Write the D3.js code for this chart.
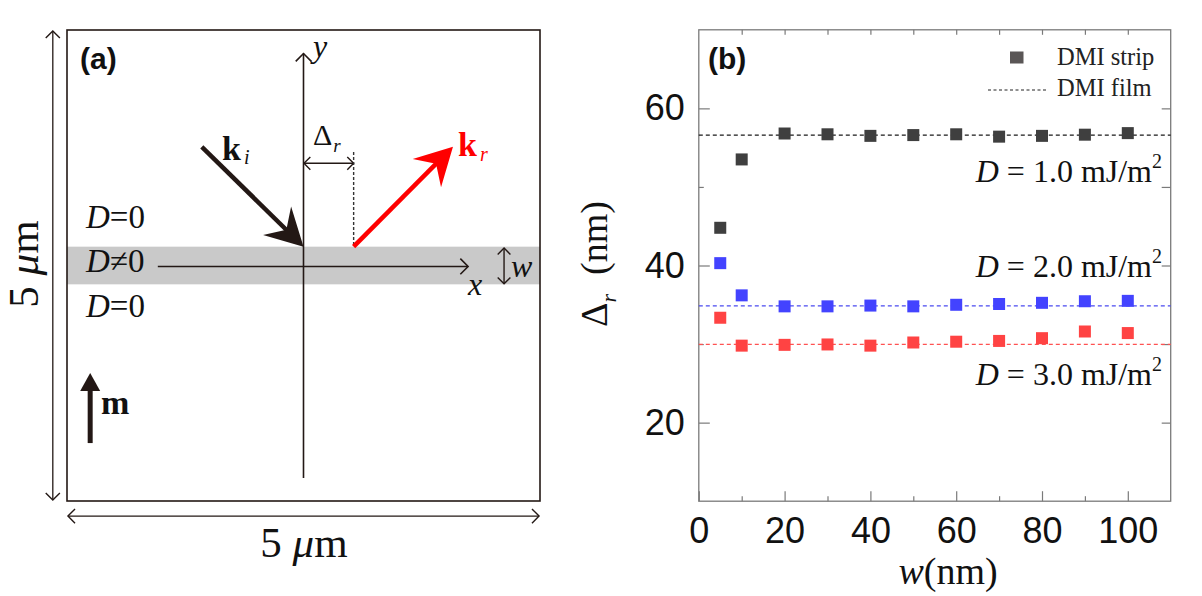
<!DOCTYPE html>
<html>
<head>
<meta charset="utf-8">
<script src="https://cdn.jsdelivr.net/npm/d3@7"></script>
<style>
  body { margin: 0; background: #fff; }
  svg { display: block; }
</style>
</head>
<body>
<div id="chart-area"></div>
<script>
// strip width w (nm) and shift Delta_r (nm)
var widths = [5, 10, 20, 30, 40, 50, 60, 70, 80, 90, 100];
var stripD1 = [44.8, 53.5, 56.8, 56.7, 56.5, 56.6, 56.7, 56.4, 56.5, 56.65, 56.85];
var stripD2 = [40.3, 36.2, 34.8, 34.8, 34.9, 34.8, 35.0, 35.1, 35.25, 35.45, 35.5];
var stripD3 = [33.35, 29.8, 29.9, 29.95, 29.8, 30.2, 30.3, 30.4, 30.75, 31.6, 31.4];
var filmValues = [56.6, 34.85, 29.95];
var dValues = ["1.0", "2.0", "3.0"];
var dLabelAt = [50.6, 38.5, 24.8];
var xTicks = [0, 20, 40, 60, 80, 100];
var yTicks = [20, 40, 60];

var serif = "'Liberation Serif', 'Times New Roman', serif";
var sans = "'Liberation Sans', Arial, sans-serif";
var ink = "#231815";

var svg = d3.select("#chart-area")
    .append("svg")
    .attr("width", 1202)
    .attr("height", 596);

/////////////// panel (a) : schematic

// box coordinates in percent of the 5 um square
var sx = d3.scaleLinear().domain([0, 100]).range([67, 540]);
var sy = d3.scaleLinear().domain([0, 100]).range([30, 501]);

var ga = svg.append("g");

function chevron(x, y, ang, len) {
    // open arrow head, tip at x,y pointing along ang (radians)
    var a1 = ang + Math.PI * 0.75, a2 = ang - Math.PI * 0.75;
    return "M" + (x + len * Math.cos(a1)) + "," + (y + len * Math.sin(a1)) +
        "L" + x + "," + y +
        "L" + (x + len * Math.cos(a2)) + "," + (y + len * Math.sin(a2));
}

function solidHead(x, y, ang, len, half, notch) {
    var c = Math.cos(ang), s = Math.sin(ang);
    var bx = x - len * c, by = y - len * s;
    var nx = x - notch * c, ny = y - notch * s;
    return "M" + x + "," + y +
        "L" + (bx - half * s) + "," + (by + half * c) +
        "L" + nx + "," + ny +
        "L" + (bx + half * s) + "," + (by - half * c) + "Z";
}

function openLine(x1, y1, x2, y2, w, col, dash) {
    return ga.append("line")
        .attr("x1", x1).attr("y1", y1).attr("x2", x2).attr("y2", y2)
        .attr("stroke", col || ink)
        .attr("stroke-width", w)
        .attr("stroke-dasharray", dash || null);
}

function headPath(d, w) {
    ga.append("path").attr("d", d).attr("fill", "none")
        .attr("stroke", ink).attr("stroke-width", w || 1.4);
}

// strip with D != 0
ga.append("rect")
    .attr("x", sx(0)).attr("y", sy(46))
    .attr("width", sx(100) - sx(0)).attr("height", sy(54) - sy(46))
    .attr("fill", "#c9c9c9");

ga.append("rect")
    .attr("x", sx(0)).attr("y", sy(0))
    .attr("width", sx(100) - sx(0)).attr("height", sy(100) - sy(0))
    .attr("fill", "none").attr("stroke", ink).attr("stroke-width", 1.6);

// dimension arrows
openLine(sx(-3), sy(0.2), sx(-3), sy(99.8), 1.3);
headPath(chevron(sx(-3), sy(0.2), -Math.PI / 2, 10));
headPath(chevron(sx(-3), sy(99.8), Math.PI / 2, 10));
openLine(sx(0.2), sy(103.2), sx(99.8), sy(103.2), 1.3);
headPath(chevron(sx(0.2), sy(103.2), Math.PI, 10));
headPath(chevron(sx(99.8), sy(103.2), 0, 10));

// y and x axes
openLine(sx(50), sy(95.1), sx(50), sy(5), 1.6);
headPath(chevron(sx(50), sy(5), -Math.PI / 2, 11), 1.6);
openLine(sx(19.2), sy(50.2), sx(84.8), sy(50.2), 1.6);
headPath(chevron(sx(84.8), sy(50.2), 0, 11), 1.6);

// width w
openLine(sx(92.4), sy(46.3), sx(92.4), sy(53.9), 1.4);
headPath(chevron(sx(92.4), sy(46.3), -Math.PI / 2, 9));
headPath(chevron(sx(92.4), sy(53.9), Math.PI / 2, 9));

// Delta_r marker
openLine(sx(50.1), sy(28.3), sx(60.6), sy(28.3), 1.4);
headPath(chevron(sx(50.1), sy(28.3), Math.PI, 9));
headPath(chevron(sx(60.6), sy(28.3), 0, 9));
openLine(sx(60.6), sy(25.9), sx(60.6), sy(46), 1.4, "#333", "3,2");

// incident k_i
var ai = Math.atan2(sy(46) - sy(24.8), sx(50) - sx(28.5));
openLine(sx(28.5), sy(24.8), sx(50) - 22 * Math.cos(ai), sy(46) - 22 * Math.sin(ai), 4.5);
ga.append("path").attr("d", solidHead(sx(50), sy(46), ai, 37, 20, 24)).attr("fill", ink);

// reflected k_r
var ar = Math.atan2(sy(24.8) - sy(46), sx(81.6) - sx(60.6));
openLine(sx(60.6), sy(46), sx(81.6) - 22 * Math.cos(ar), sy(24.8) - 22 * Math.sin(ar), 4.5, "#ff0000");
ga.append("path").attr("d", solidHead(sx(81.6), sy(24.8), ar, 37, 20, 24)).attr("fill", "#ff0000");

// magnetisation m
openLine(sx(4.9), sy(87.7), sx(4.9), sy(75), 5);
ga.append("path").attr("d", solidHead(sx(4.9), sy(72.8), -Math.PI / 2, 18, 10, 18)).attr("fill", ink);

function label(g, xPos, yPos, size) {
    return g.append("text")
        .attr("x", xPos).attr("y", yPos)
        .attr("font-family", serif)
        .attr("font-size", size)
        .attr("fill", "#111");
}

ga.append("text").attr("x", 80).attr("y", 69)
    .attr("font-family", sans).attr("font-weight", "bold")
    .attr("font-size", 30).attr("fill", "#111").text("(a)");

["D=0", "D\u22600", "D=0"].forEach(function(t, i) {
    var tx = label(ga, 86, [228, 272, 317][i], 33);
    tx.append("tspan").attr("font-style", "italic").text("D");
    tx.append("tspan").text(t.slice(1));
});

var ki = label(ga, 222, 160, 34).attr("font-weight", "bold");
ki.append("tspan").text("k");
ki.append("tspan").attr("font-style", "italic").attr("font-weight", "normal")
    .attr("font-size", 20).attr("dx", 3).attr("dy", 4).text("i");

var kr = label(ga, 458, 156, 34).attr("font-weight", "bold").attr("fill", "#ff0000");
kr.append("tspan").text("k");
kr.append("tspan").attr("font-style", "italic").attr("font-weight", "normal")
    .attr("font-size", 20).attr("dx", 3).attr("dy", 5).text("r");

var dr = label(ga, 313, 145, 30);
dr.append("tspan").text("\u0394");
dr.append("tspan").attr("font-style", "italic").attr("font-size", 19)
    .attr("dx", 1).attr("dy", 7).text("r");

label(ga, 313, 57, 32).attr("font-style", "italic").text("y");
label(ga, 468, 295, 32).attr("font-style", "italic").text("x");
label(ga, 511, 277, 32).attr("font-style", "italic").text("w");
label(ga, 101, 414, 34).attr("font-weight", "bold").text("m");

var bot = label(ga, 304, 557, 43).attr("text-anchor", "middle");
bot.append("tspan").text("5 ");
bot.append("tspan").attr("font-style", "italic").text("\u03bc");
bot.append("tspan").text("m");

var side = label(ga, 0, 0, 43).attr("text-anchor", "middle")
    .attr("transform", "translate(38,264) rotate(-90)");
side.append("tspan").text("5 ");
side.append("tspan").attr("font-style", "italic").text("\u03bc");
side.append("tspan").text("m");

/////////////// panel (b) : Delta_r versus w

var x = d3.scaleLinear().domain([0, 110]).range([698.8, 1170.7]);
var y = d3.scaleLinear().domain([10, 70]).range([501.2, 29.8]);
var frame = "#7a7a7a";

var gb = svg.append("g");

function styleAxis(sel) {
    sel.select(".domain").remove();
    sel.selectAll("line").attr("stroke", frame).attr("stroke-width", 1.2);
    sel.selectAll("text").attr("font-family", sans).attr("font-size", 36).attr("fill", "#111");
}

gb.append("g")
    .attr("transform", "translate(0," + y(10) + ")")
    .call(d3.axisBottom(x).tickValues(d3.range(10, 101, 20)).tickSizeInner(-5).tickSizeOuter(0).tickFormat(""))
    .call(styleAxis);
gb.append("g")
    .attr("transform", "translate(0," + y(10) + ")")
    .call(d3.axisBottom(x).tickValues(xTicks).tickSizeInner(-10).tickSizeOuter(0).tickPadding(16))
    .call(styleAxis);
gb.append("g")
    .attr("transform", "translate(0," + y(70) + ")")
    .call(d3.axisTop(x).tickValues(d3.range(10, 101, 10)).tickSizeInner(-5).tickSizeOuter(0).tickFormat(""))
    .call(styleAxis);
gb.append("g")
    .attr("transform", "translate(" + x(0) + ",0)")
    .call(d3.axisLeft(y).tickValues([30, 50]).tickSizeInner(-5).tickSizeOuter(0).tickFormat(""))
    .call(styleAxis);
gb.append("g")
    .attr("transform", "translate(" + x(0) + ",0)")
    .call(d3.axisLeft(y).tickValues(yTicks).tickSizeInner(-11).tickSizeOuter(0).tickPadding(14))
    .call(styleAxis);
gb.append("g")
    .attr("transform", "translate(" + x(110) + ",0)")
    .call(d3.axisRight(y).tickValues(d3.range(20, 61, 10)).tickSizeInner(-9).tickSizeOuter(0).tickFormat(""))
    .call(styleAxis);

gb.append("rect")
    .attr("x", x(0)).attr("y", y(70))
    .attr("width", x(110) - x(0)).attr("height", y(10) - y(70))
    .attr("fill", "none").attr("stroke", frame).attr("stroke-width", 1.3);

var series = [
    { values: stripD1, film: filmValues[0], fill: "#3f3f3f", line: "#1a1a1a" },
    { values: stripD2, film: filmValues[1], fill: "#4343ff", line: "#4a4af0" },
    { values: stripD3, film: filmValues[2], fill: "#ff4343", line: "#ff5252" }
];

series.forEach(function(s) {
    gb.append("line")
        .attr("x1", x(0)).attr("x2", x(110))
        .attr("y1", y(s.film)).attr("y2", y(s.film))
        .attr("stroke", s.line).attr("stroke-width", 1.2)
        .attr("stroke-dasharray", "4,3");
});

series.forEach(function(s) {
    gb.selectAll(null)
        .data(s.values)
        .enter().append("rect")
        .attr("x", function(d, i) { return x(widths[i]) - 6; })
        .attr("y", function(d) { return y(d) - 6; })
        .attr("width", 12).attr("height", 12)
        .attr("fill", s.fill);
});

// D labels
dValues.forEach(function(v, i) {
    var t = label(gb, 1162, y(dLabelAt[i]), 32).attr("text-anchor", "end");
    t.append("tspan").attr("font-style", "italic").text("D");
    t.append("tspan").text(" = " + v + " mJ/m");
    t.append("tspan").attr("font-size", 20).attr("dy", -14).text("2");
});

// legend
gb.append("rect").attr("x", 1010).attr("y", 51.5).attr("width", 13.5).attr("height", 12)
    .attr("fill", "#5a5656");
label(gb, 1057, 65, 24.5).attr("fill", "#222").text("DMI strip");
gb.append("line").attr("x1", 988).attr("x2", 1047).attr("y1", 90).attr("y2", 90)
    .attr("stroke", "#222").attr("stroke-width", 1.1).attr("stroke-dasharray", "3,2.5");
label(gb, 1057, 96, 24.5).attr("fill", "#222").text("DMI film");

gb.append("text").attr("x", 708).attr("y", 69)
    .attr("font-family", sans).attr("font-weight", "bold")
    .attr("font-size", 30).attr("fill", "#111").text("(b)");

var xl = label(gb, 948, 584, 38).attr("text-anchor", "middle");
xl.append("tspan").attr("font-style", "italic").text("w");
xl.append("tspan").text("(nm)");

var yl = label(gb, 0, 0, 38).attr("text-anchor", "middle")
    .attr("transform", "translate(607,264) rotate(-90)");
yl.append("tspan").text("\u0394");
yl.append("tspan").attr("font-style", "italic").attr("font-size", 22).attr("dy", 9).text("r");
yl.append("tspan").attr("dy", -9).text("\u2002(nm)");
</script>
</body>
</html>
